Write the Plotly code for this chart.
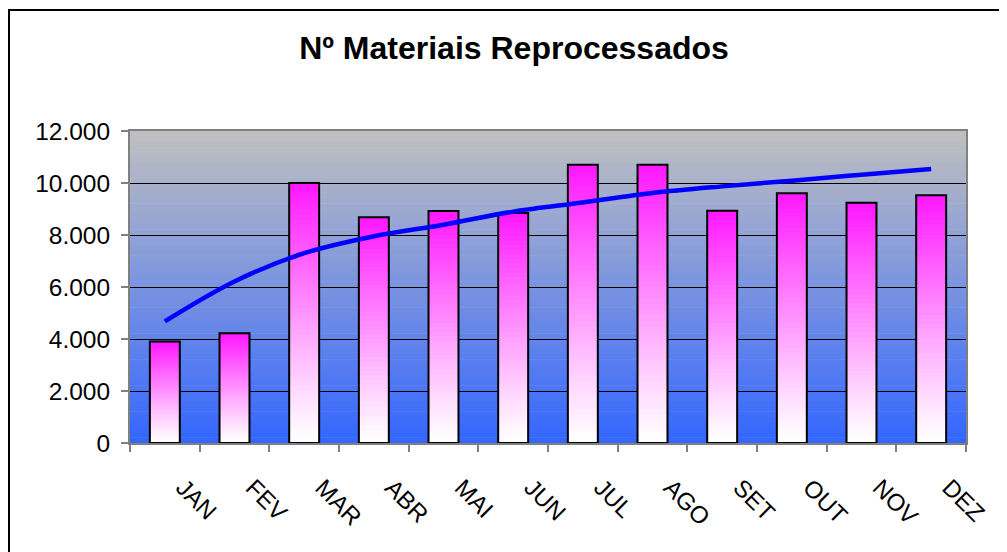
import plotly.graph_objects as go

months = ["JAN", "FEV", "MAR", "ABR", "MAI", "JUN", "JUL", "AGO", "SET", "OUT", "NOV", "DEZ"]
reprocessados = [3900, 4220, 10000, 8680, 8920, 8850, 10700, 10700, 8930, 9610, 9240, 9530]
tendencia = [4680, 6215, 7300, 7950, 8396, 8900, 9254, 9615, 9870, 10088, 10319, 10538]
y_ticks = [0, 2000, 4000, 6000, 8000, 10000, 12000]

# the page body adds an 8px margin, so the figure is drawn 8px smaller and offset
OFF = 8
W, H = 1007 - OFF, 552 - OFF
L, R, T, B = 130 - OFF, 41, 131 - OFF, 109
PW, PH = W - L - R, H - T - B

xpos = list(range(len(months)))


def lerp(c1, c2, t):
    return tuple(round(a + (b - a) * t) for a, b in zip(c1, c2))


fig = go.Figure()

# bars with vertical gradient (white bottom -> magenta top), overlapping layers
N = 50
white, magenta = (255, 255, 255), (255, 25, 255)
for k in range(N):
    t = k / (N - 1)
    c = lerp(white, magenta, t ** 1.1)
    fig.add_trace(go.Bar(
        x=xpos, y=[v * (N - k) / N for v in reprocessados], base=[v * k / N for v in reprocessados],
        width=0.43, marker=dict(color="rgb(%d,%d,%d)" % c, line=dict(width=0)),
        hoverinfo="skip", showlegend=False))

# outline
fig.add_trace(go.Bar(
    x=xpos, y=reprocessados, width=0.43,
    marker=dict(color="rgba(0,0,0,0)", line=dict(color="black", width=2)),
    showlegend=False, hovertext=months, hoverinfo="text+y"))

# trend line
fig.add_trace(go.Scatter(
    x=xpos, y=tendencia, mode="lines", line=dict(color="#0000FF", width=4.5, shape="spline"),
    showlegend=False, hoverinfo="skip"))

# background gradient (grey top -> blue bottom)
shapes = []
S = 60
top_c, bot_c = (192, 192, 192), (51, 102, 255)
for i in range(S):
    c = lerp(bot_c, top_c, (i + 0.5) / S)
    shapes.append(dict(type="rect", xref="x domain", yref="y domain",
                       x0=0, x1=1, y0=i / S, y1=(i + 1) / S + 0.002,
                       fillcolor="rgb(%d,%d,%d)" % c, line=dict(width=0), layer="below"))
# outer chart border
shapes.append(dict(type="rect", xref="paper", yref="paper",
                   x0=(1 - L) / PW, x1=(W + 10 - L) / PW,
                   y0=-(H + 10 - T - PH) / PH, y1=(H - B - 2) / PH,
                   line=dict(color="black", width=2), fillcolor="rgba(0,0,0,0)", layer="above"))

fig.update_layout(
    width=W, height=H,
    margin=dict(l=L, r=R, t=T, b=B, autoexpand=False),
    paper_bgcolor="white", plot_bgcolor="rgba(0,0,0,0)",
    barmode="overlay", separators=",.",
    font=dict(family="Liberation Sans, Arial, sans-serif", color="black"),
    title=dict(text="<b>Nº Materiais Reprocessados</b>", x=(514 - OFF) / W, xanchor="center",
               xref="container", y=1 - (48 - OFF) / H, yanchor="middle", yref="container",
               font=dict(size=32, color="black")),
    shapes=shapes,
)

fig.update_xaxes(
    range=[-0.5, len(months) - 0.5],
    tickvals=[i + 0.26 for i in xpos], ticktext=months, ticks="",
    minor=dict(tickvals=[i - 0.5 for i in xpos] + [len(months) - 0.5], ticks="outside",
               ticklen=7, tickcolor="#808080", tickwidth=2, showgrid=False),
    showline=True, linecolor="#808080", linewidth=2, mirror=True, showgrid=False, zeroline=False,
    tickangle=45, tickfont=dict(size=24), ticklabelstandoff=19)

fig.update_yaxes(
    range=[0, 12000], tickvals=y_ticks, tickformat=",d", ticks="outside", ticklen=7,
    tickcolor="#808080", tickwidth=2, showline=True, linecolor="#808080", linewidth=2,
    mirror=True, showgrid=True, gridcolor="black", gridwidth=1, zeroline=False,
    tickfont=dict(size=24.5), ticklabelstandoff=6)

fig.write_html("out.html")
